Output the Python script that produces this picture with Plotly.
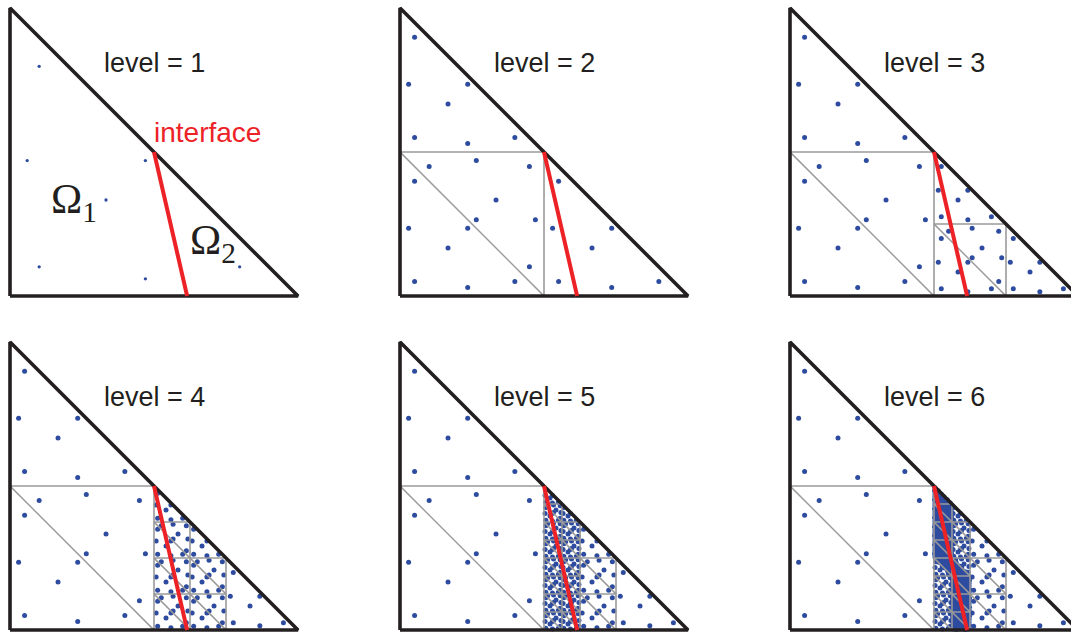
import plotly.graph_objects as go

# ---------------- data ----------------
levels = [1, 2, 3, 4, 5, 6]
level_labels = ["level = 1", "level = 2", "level = 3", "level = 4", "level = 5", "level = 6"]

# reference right triangle (unit legs)
root_tri_x = [0.0, 1.0, 0.0]
root_tri_y = [0.0, 0.0, 1.0]

# 7-point symmetric quadrature nodes, barycentric coordinates (b1, b2; b3 = 1 - b1 - b2)
node_b1 = [0.333333333, 0.797426985, 0.101286507, 0.101286507, 0.059715872, 0.470142064, 0.470142064]
node_b2 = [0.333333333, 0.101286507, 0.797426985, 0.101286507, 0.470142064, 0.059715872, 0.470142064]

# material interface (straight segment)
interface_x = [0.5, 0.615]
interface_y = [0.5, 0.0]

region_labels = ["Ω<sub>1</sub>", "Ω<sub>2</sub>"]
region_label_x = [0.135, 0.618]
region_label_y = [0.325, 0.185]

mesh_line_max_level = 5

# ---------------- styles ----------------
DOT = "#2e4c9f"
RED = "#ec2227"
BLACK = "#231f20"
GRAY = "#9a9a9a"

# ---------------- geometry helpers ----------------
def mid(p, q):
    return ((p[0] + q[0]) / 2.0, (p[1] + q[1]) / 2.0)


def children(t):
    a, b, c = t
    ab, bc, ca = mid(a, b), mid(b, c), mid(c, a)
    return [(a, ab, ca), (ab, b, bc), (ca, bc, c), (ab, bc, ca)]


def crosses(t):
    p0 = (interface_x[0], interface_y[0])
    d = (interface_x[1] - interface_x[0], interface_y[1] - interface_y[0])
    tmin, tmax = 0.0, 1.0
    for i in range(3):
        a, b, c = t[i], t[(i + 1) % 3], t[(i + 2) % 3]
        ex, ey = b[0] - a[0], b[1] - a[1]
        n = (-ey, ex)
        if n[0] * (c[0] - a[0]) + n[1] * (c[1] - a[1]) < 0:
            n = (ey, -ex)
        num = n[0] * (p0[0] - a[0]) + n[1] * (p0[1] - a[1])
        den = n[0] * d[0] + n[1] * d[1]
        if abs(den) < 1e-15:
            if num < 0:
                return False
        else:
            s = -num / den
            if den > 0:
                tmin = max(tmin, s)
            else:
                tmax = min(tmax, s)
    return tmax - tmin > 1e-9


root = tuple(zip(root_tri_x, root_tri_y))
meshes = {1: [root]}
for lv in levels[1:]:
    new = []
    for t in meshes[lv - 1]:
        if crosses(t):
            new.extend(children(t))
        else:
            new.append(t)
    meshes[lv] = new

# ---------------- layout geometry (pixels) ----------------
W, H = 1071, 635
UNIT = 288.0
col_left = [10, 400, 790]          # pixel x of triangle origin
row_base = [296, 630]              # pixel y of triangle origin
col_dom = [(0, 320), (385, 710), (775, 1071)]
row_dom = [(0, 314), (318, 635)]

fig = go.Figure()
layout = dict(
    width=W, height=H, margin=dict(l=0, r=0, t=0, b=0),
    paper_bgcolor="white", plot_bgcolor="white", showlegend=False,
)
annotations = []

for k, lv in enumerate(levels):
    r, c = divmod(k, 3)
    ax = "" if k == 0 else str(k + 1)
    xa, ya = "x" + ax, "y" + ax
    L, B = col_left[c], row_base[r]
    d0, d1 = col_dom[c]
    e0, e1 = row_dom[r]
    layout["xaxis" + ax] = dict(
        domain=[d0 / W, d1 / W], range=[(d0 - L) / UNIT, (d1 - L) / UNIT],
        visible=False, fixedrange=True, anchor=ya,
    )
    layout["yaxis" + ax] = dict(
        domain=[1 - e1 / H, 1 - e0 / H], range=[(B - e1) / UNIT, (B - e0) / UNIT],
        visible=False, fixedrange=True, anchor=xa,
    )

    # quadrature points
    px, py = [], []
    for t in meshes[lv]:
        a, b, cc = t
        for b1, b2 in zip(node_b1, node_b2):
            b3 = 1.0 - b1 - b2
            px.append(b1 * a[0] + b2 * b[0] + b3 * cc[0])
            py.append(b1 * a[1] + b2 * b[1] + b3 * cc[1])
    fig.add_trace(go.Scatter(
        x=px, y=py, mode="markers", xaxis=xa, yaxis=ya, hoverinfo="skip",
        marker=dict(size=3.3 if lv == 1 else 5, color=DOT, line=dict(width=0)),
    ))

    # mesh lines
    lx, ly = [], []
    for t in meshes[min(lv, mesh_line_max_level)]:
        for p in (t[0], t[1], t[2], t[0]):
            lx.append(p[0]); ly.append(p[1])
        lx.append(None); ly.append(None)
    fig.add_trace(go.Scatter(
        x=lx, y=ly, mode="lines", xaxis=xa, yaxis=ya, hoverinfo="skip",
        line=dict(color=GRAY, width=1.1),
    ))

    # outline of reference triangle
    fig.add_trace(go.Scatter(
        x=root_tri_x + [root_tri_x[0]], y=root_tri_y + [root_tri_y[0]],
        mode="lines", xaxis=xa, yaxis=ya, hoverinfo="skip",
        line=dict(color=BLACK, width=3.6),
    ))

    # interface
    fig.add_trace(go.Scatter(
        x=interface_x, y=interface_y, mode="lines", xaxis=xa, yaxis=ya,
        hoverinfo="skip", line=dict(color=RED, width=4),
    ))

    annotations.append(dict(
        x=0.503, y=0.808, xref=xa, yref=ya, text=level_labels[k], showarrow=False,
        xanchor="center", yanchor="middle",
        font=dict(family="Liberation Sans, Arial, sans-serif", size=27, color=BLACK),
    ))

    if lv == 1:
        annotations.append(dict(
            x=0.494, y=0.566, xref=xa, yref=ya, text="interface", showarrow=False,
            xanchor="left", yanchor="middle",
            font=dict(family="Liberation Sans, Arial, sans-serif", size=28, color=RED),
        ))
        for txt, tx, ty in zip(region_labels, region_label_x, region_label_y):
            annotations.append(dict(
                x=tx, y=ty, xref=xa, yref=ya, text=txt, showarrow=False,
                xanchor="left", yanchor="middle",
                font=dict(family="Liberation Serif, Times New Roman, serif", size=42, color=BLACK),
            ))

layout["annotations"] = annotations
fig.update_layout(**layout)
fig.write_html("out.html")
